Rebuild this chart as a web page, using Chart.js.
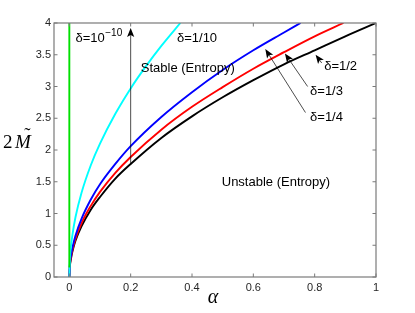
<!DOCTYPE html>
<html>
<head>
<meta charset="utf-8">
<script src="https://cdn.jsdelivr.net/npm/chart.js@4.4.0/dist/chart.umd.min.js"></script>
<style>
html,body{margin:0;padding:0;background:#fff;}
#wrap{width:415px;height:313px;position:relative;}
</style>
</head>
<body>
<div id="wrap"><canvas id="c" width="415" height="313"></canvas></div>
<script>
// ---- data ----
const xTickValues = [0, 0.2, 0.4, 0.6, 0.8, 1];
const xTickLabels = ['0', '0.2', '0.4', '0.6', '0.8', '1'];
const yTickValues = [0, 0.5, 1, 1.5, 2, 2.5, 3, 3.5, 4];
const yTickLabels = ['0', '0.5', '1', '1.5', '2', '2.5', '3', '3.5', '4'];

const alphaGreen = [0, 0];
const mGreen = [0.15, 4];

const alphaCyan = [0, 0.002, 0.005, 0.01, 0.02, 0.04, 0.07, 0.1, 0.15, 0.2, 0.25, 0.3, 0.362];
const mCyan = [0, 0.30, 0.47, 0.66, 0.94, 1.33, 1.76, 2.10, 2.57, 2.97, 3.32, 3.64, 4.0];

const alphaBlue = [0, 0.002, 0.005, 0.01, 0.02, 0.04, 0.07, 0.1, 0.15, 0.2, 0.3, 0.4, 0.5, 0.6, 0.7, 0.754];
const mBlue = [0, 0.21, 0.33, 0.46, 0.65, 0.92, 1.22, 1.46, 1.78, 2.06, 2.52, 2.91, 3.26, 3.57, 3.85, 4.0];

const alphaRed = [0, 0.002, 0.005, 0.01, 0.02, 0.04, 0.07, 0.1, 0.15, 0.2, 0.3, 0.4, 0.5, 0.6, 0.7, 0.8, 0.894];
const mRed = [0, 0.19, 0.30, 0.42, 0.60, 0.85, 1.12, 1.34, 1.64, 1.89, 2.32, 2.68, 2.99, 3.28, 3.54, 3.79, 4.0];

const alphaBlack = [0, 0.002, 0.005, 0.01, 0.02, 0.04, 0.07, 0.1, 0.15, 0.2, 0.3, 0.4, 0.5, 0.6, 0.7, 0.8, 0.9, 1.0];
const mBlack = [0, 0.18, 0.28, 0.40, 0.57, 0.80, 1.06, 1.26, 1.55, 1.78, 2.19, 2.53, 2.83, 3.10, 3.35, 3.57, 3.79, 4.0];

const seriesLabels = ['δ=10^-10', 'δ=1/10', 'δ=1/4', 'δ=1/3', 'δ=1/2'];
const seriesColors = ['#00e000', '#00ffff', '#0000ff', '#ff0000', '#000000'];

function pts(xs, ys) { return xs.map((x, i) => ({ x: x, y: ys[i] })); }

const seriesData = [
  pts(alphaGreen, mGreen),
  pts(alphaCyan, mCyan),
  pts(alphaBlue, mBlue),
  pts(alphaRed, mRed),
  pts(alphaBlack, mBlack)
];

// annotations in data coordinates
const textNotes = [
  { text: 'δ=1/10', x: 0.351, y: 3.75 },
  { text: 'Stable (Entropy)', x: 0.233, y: 3.28 },
  { text: 'Unstable (Entropy)', x: 0.497, y: 1.49 },
  { text: 'δ=1/2', x: 0.831, y: 3.31 },
  { text: 'δ=1/3', x: 0.785, y: 2.93 },
  { text: 'δ=1/4', x: 0.785, y: 2.51 }
];
const arrows = [
  { x1: 0.2, y1: 1.77, x2: 0.2, y2: 3.92 },
  { x1: 0.823, y1: 3.37, x2: 0.803, y2: 3.50 },
  { x1: 0.777, y1: 3.00, x2: 0.703, y2: 3.52 },
  { x1: 0.770, y1: 2.59, x2: 0.639, y2: 3.59 }
];

const AXIS = '#7a7a7a';
const TXT = '#262626';

function drawArrow(ctx, x1, y1, x2, y2) {
  const ang = Math.atan2(y2 - y1, x2 - x1);
  const L = 9, W = 3.6, back = 2;
  ctx.save();
  ctx.strokeStyle = '#000';
  ctx.fillStyle = '#000';
  ctx.lineWidth = 0.7;
  ctx.beginPath();
  ctx.moveTo(x1, y1);
  ctx.lineTo(x2 - Math.cos(ang) * (L - back), y2 - Math.sin(ang) * (L - back));
  ctx.stroke();
  ctx.translate(x2, y2);
  ctx.rotate(ang);
  ctx.beginPath();
  ctx.moveTo(0, 0);
  ctx.lineTo(-L, -W);
  ctx.lineTo(-L + back, 0);
  ctx.lineTo(-L, W);
  ctx.closePath();
  ctx.fill();
  ctx.restore();
}

const decor = {
  id: 'decor',
  afterDatasetsDraw(chart) {
    const ctx = chart.ctx;
    const xs = chart.scales.x, ys = chart.scales.y;
    const a = chart.chartArea;
    ctx.save();
    // box
    ctx.strokeStyle = AXIS;
    ctx.lineWidth = 1.2;
    ctx.strokeRect(a.left, a.top, a.right - a.left, a.bottom - a.top);
    // inward ticks
    const tl = 3.5;
    ctx.beginPath();
    xTickValues.forEach(v => {
      const px = xs.getPixelForValue(v);
      ctx.moveTo(px, a.bottom); ctx.lineTo(px, a.bottom - tl);
      ctx.moveTo(px, a.top); ctx.lineTo(px, a.top + tl);
    });
    yTickValues.forEach(v => {
      const py = ys.getPixelForValue(v);
      ctx.moveTo(a.left, py); ctx.lineTo(a.left + tl, py);
      ctx.moveTo(a.right, py); ctx.lineTo(a.right - tl, py);
    });
    ctx.lineWidth = 1;
    ctx.stroke();

    // arrows
    arrows.forEach(ar => {
      drawArrow(ctx, xs.getPixelForValue(ar.x1), ys.getPixelForValue(ar.y1),
        xs.getPixelForValue(ar.x2), ys.getPixelForValue(ar.y2));
    });

    // text notes
    ctx.fillStyle = '#000';
    ctx.textBaseline = 'middle';
    ctx.textAlign = 'left';
    ctx.font = '13px "Liberation Sans", Arial, sans-serif';
    textNotes.forEach(t => {
      ctx.fillText(t.text, xs.getPixelForValue(t.x), ys.getPixelForValue(t.y));
    });
    // delta = 10^-10 with superscript
    const bx = xs.getPixelForValue(0.02), by = ys.getPixelForValue(3.75);
    const main = 'δ=10';
    ctx.fillText(main, bx, by);
    const w = ctx.measureText(main).width;
    ctx.font = '10px "Liberation Sans", Arial, sans-serif';
    ctx.fillText('\u221210', bx + w + 0.5, by - 6);

    // axis labels
    ctx.textAlign = 'center';
    ctx.font = 'italic 20px "Liberation Serif", "DejaVu Serif", serif';
    ctx.fillText('α', 213, 298);
    ctx.textAlign = 'left';
    ctx.font = '19px "Liberation Serif", "DejaVu Serif", serif';
    ctx.textBaseline = 'alphabetic';
    ctx.fillText('2', 3, 148);
    ctx.font = 'italic 19px "Liberation Serif", "DejaVu Serif", serif';
    ctx.fillText('M', 15, 148);
    ctx.textAlign = 'center';
    ctx.font = '19px "Liberation Serif", "DejaVu Serif", serif';
    ctx.fillText('\u02DC', 27.5, 141);
    ctx.restore();
  }
};

new Chart(document.getElementById('c'), {
  type: 'scatter',
  data: {
    datasets: seriesData.map((d, i) => ({
      label: seriesLabels[i],
      data: d,
      showLine: true,
      borderColor: seriesColors[i],
      backgroundColor: seriesColors[i],
      borderWidth: 1.9,
      pointRadius: 0,
      cubicInterpolationMode: 'monotone',
      fill: false
    }))
  },
  options: {
    responsive: false,
    animation: false,
    devicePixelRatio: 1,
    layout: { padding: { left: 0, right: 39, top: 23, bottom: 0 } },
    plugins: { legend: { display: false }, tooltip: { enabled: false } },
    scales: {
      x: {
        type: 'linear', min: -0.05, max: 1,
        afterBuildTicks: s => { s.ticks = xTickValues.map(v => ({ value: v })); },
        afterFit: s => { s.height = 36; },
        grid: { display: false, drawTicks: false },
        border: { display: false },
        ticks: {
          padding: 4, color: TXT,
          font: { family: '"Liberation Sans", Arial, sans-serif', size: 11 },
          callback: (v) => { const i = xTickValues.indexOf(v); return i >= 0 ? xTickLabels[i] : ''; }
        }
      },
      y: {
        type: 'linear', min: 0, max: 4,
        afterBuildTicks: s => { s.ticks = yTickValues.map(v => ({ value: v })); },
        afterFit: s => { s.width = 54; },
        grid: { display: false, drawTicks: false },
        border: { display: false },
        ticks: {
          padding: 3, color: TXT,
          font: { family: '"Liberation Sans", Arial, sans-serif', size: 11 },
          callback: (v) => { const i = yTickValues.indexOf(v); return i >= 0 ? yTickLabels[i] : ''; }
        }
      }
    }
  },
  plugins: [decor]
});
</script>
</body>
</html>
